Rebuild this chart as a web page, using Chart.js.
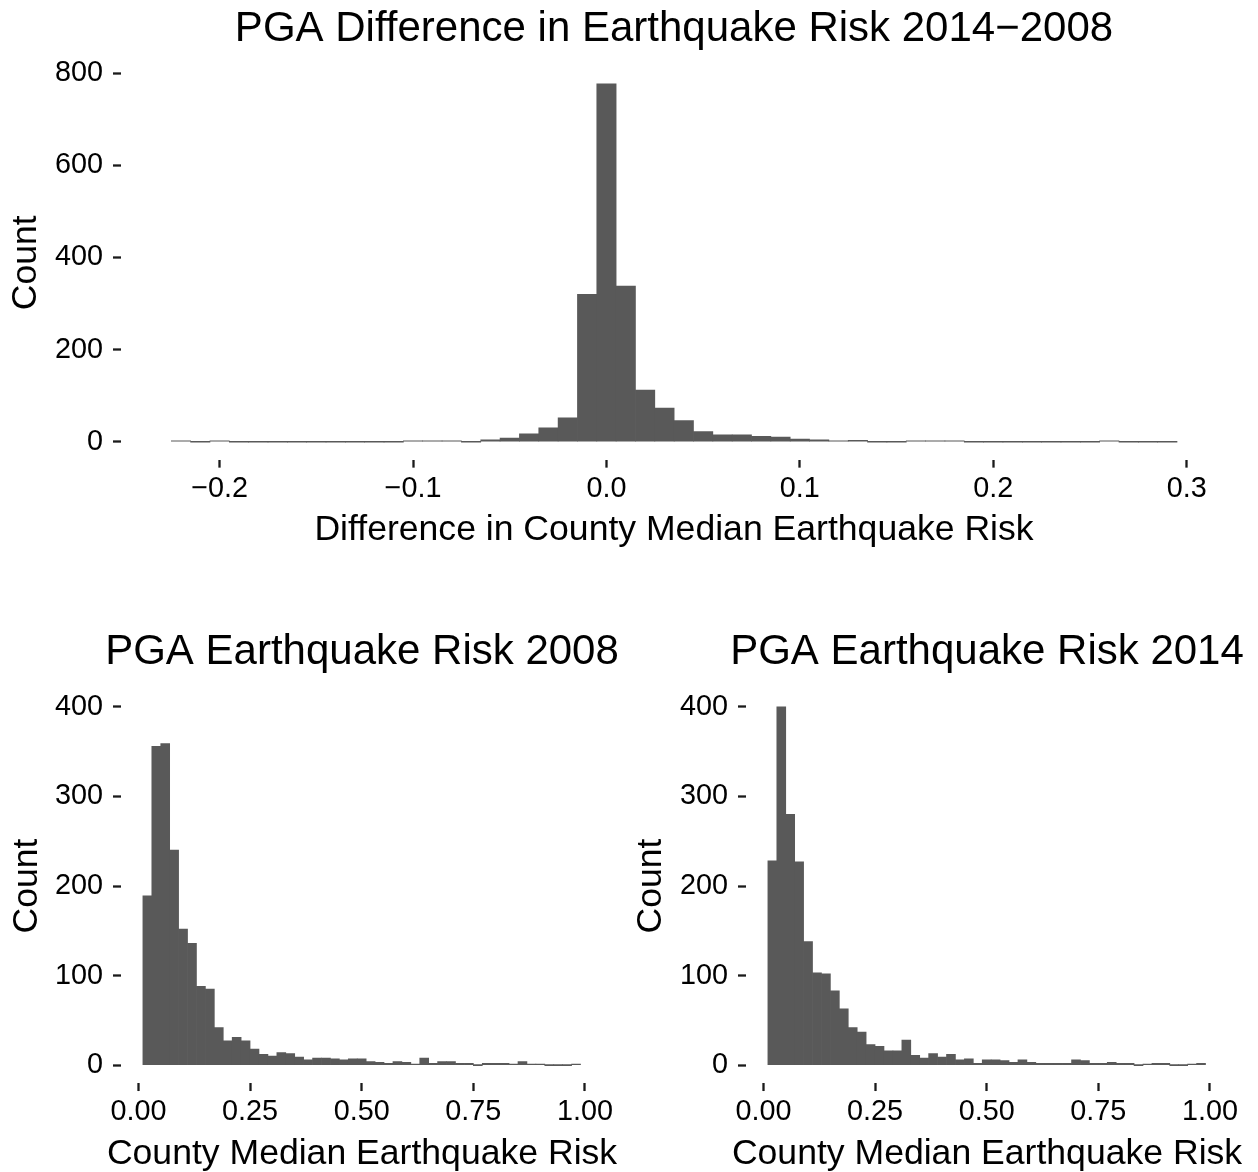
<!DOCTYPE html>
<html>
<head>
<meta charset="utf-8">
<script src="https://cdn.jsdelivr.net/npm/chart.js@4.4.1/dist/chart.umd.min.js"></script>
<style>
  html, body { margin: 0; padding: 0; background: #fff; overflow: hidden; }
  body { width: 1258px; height: 1172px; position: relative; }
  canvas { position: absolute; }
  /* each canvas is centred on its own plot panel so the titles centre on it */
  #diffChart { left: 0; top: 0; }
  #risk2008Chart { left: 0; top: 600px; }
  #risk2014Chart { left: 629px; top: 600px; }
</style>
</head>
<body>
<canvas id="diffChart" width="1348" height="552"></canvas>
<canvas id="risk2008Chart" width="724" height="576"></canvas>
<canvas id="risk2014Chart" width="716" height="576"></canvas>
<script>
const FONT = "'Liberation Sans', Arial, sans-serif";
const BAR_COLOR = "#595959";
const INK = "#000";

// bin centres (width 0.01) and counts for the 2014-2008 difference
const diffBins = [
    -0.22, -0.21, -0.20, -0.19, -0.18, -0.17, -0.16, -0.15, -0.14, -0.13,
    -0.12, -0.11, -0.10, -0.09, -0.08, -0.07, -0.06, -0.05, -0.04, -0.03,
    -0.02, -0.01, 0.00, 0.01, 0.02, 0.03, 0.04, 0.05, 0.06, 0.07,
    0.08, 0.09, 0.10, 0.11, 0.12, 0.13, 0.14, 0.15, 0.16, 0.17,
    0.18, 0.19, 0.20, 0.21, 0.22, 0.23, 0.24, 0.25, 0.26, 0.27,
    0.28, 0.29,
];
const diffCounts = [
    2, 0, 2, 0, 0, 0, 0, 0, 0, 0,
    0, 0, 2, 1, 2, 0, 4, 8, 17, 30,
    52, 320, 777, 338, 112, 73, 46, 22, 15, 15,
    12, 10, 6, 4, 2, 3, 0, 0, 1, 1,
    1, 0, 0, 0, 0, 0, 0, 0, 1, 0,
    0, 0,
];

// bin centres (width 0.02) for the county median risk
const riskBins = [
    0.02, 0.04, 0.06, 0.08, 0.10, 0.12, 0.14, 0.16, 0.18, 0.20,
    0.22, 0.24, 0.26, 0.28, 0.30, 0.32, 0.34, 0.36, 0.38, 0.40,
    0.42, 0.44, 0.46, 0.48, 0.50, 0.52, 0.54, 0.56, 0.58, 0.60,
    0.62, 0.64, 0.66, 0.68, 0.70, 0.72, 0.74, 0.76, 0.78, 0.80,
    0.82, 0.84, 0.86, 0.88, 0.90, 0.92, 0.94, 0.96, 0.98,
];
const risk2008Counts = [
    189, 356, 359, 240, 152, 136, 88, 85, 42, 27,
    31, 27, 18, 12, 10, 14, 13, 9, 6, 8,
    8, 7, 6, 7, 7, 4, 3, 2, 4, 3,
    1, 8, 2, 4, 4, 2, 2, 0, 2, 2,
    2, 1, 4, 1, 1, 0, 0, 0, 1,
];
const risk2014Counts = [
    228, 400, 280, 227, 138, 103, 102, 83, 63, 42,
    37, 23, 21, 16, 16, 28, 11, 8, 13, 9,
    12, 6, 7, 2, 6, 6, 5, 3, 6, 3,
    2, 2, 2, 2, 6, 5, 2, 2, 3, 2,
    2, 0, 1, 2, 2, 0, 0, 1, 2,
];

const diffTicks = [-0.2, -0.1, 0, 0.1, 0.2, 0.3];
const diffTickLabels = ["\u22120.2", "\u22120.1", "0.0", "0.1", "0.2", "0.3"];
const riskTicks = [0, 0.25, 0.5, 0.75, 1];
const riskTickLabels = ["0.00", "0.25", "0.50", "0.75", "1.00"];
const diffCountTicks = [0, 200, 400, 600, 800];
const riskCountTicks = [0, 100, 200, 300, 400];

const tickGrid = {
    display: true,
    drawOnChartArea: false,
    drawTicks: true,
    tickLength: 8,
    tickWidth: 2.3,
    tickColor: "#1a1a1a",
    offset: false,
};

function histogram(canvasId, cfg) {
    return new Chart(document.getElementById(canvasId), {
        type: "bar",
        data: {
            datasets: [
                {
                    data: cfg.bins.map((x, i) => ({ x, y: cfg.counts[i] })),
                    backgroundColor: BAR_COLOR,
                    borderWidth: 0,
                    barPercentage: 1,
                    categoryPercentage: 1,
                    minBarLength: 1,
                },
            ],
        },
        options: {
            responsive: false,
            animation: false,
            layout: { padding: 0 },
            plugins: {
                legend: { display: false },
                tooltip: { enabled: false },
                title: {
                    display: true,
                    text: cfg.title,
                    color: INK,
                    font: { family: FONT, size: 42, weight: "normal", lineHeight: 1.2 },
                    padding: cfg.titlePadding,
                },
                // x-axis title, drawn full width so it is not squeezed to the panel
                subtitle: {
                    display: true,
                    position: "bottom",
                    text: cfg.xTitle,
                    color: INK,
                    font: { family: FONT, size: 35.6, weight: "normal", lineHeight: 1.2 },
                    padding: cfg.xTitlePadding,
                },
            },
            scales: {
                x: {
                    type: "linear",
                    min: cfg.xMin,
                    max: cfg.xMax,
                    offset: false,
                    afterBuildTicks: (s) => { s.ticks = cfg.xTicks.map((v) => ({ value: v })); },
                    afterFit: (s) => { s.height = 47; },
                    ticks: {
                        autoSkip: false,
                        maxRotation: 0,
                        padding: 4,
                        color: INK,
                        font: { family: FONT, size: 28.8 },
                        callback: (v, i) => cfg.xTickLabels[i],
                    },
                    grid: tickGrid,
                    border: { display: false },
                },
                y: {
                    type: "linear",
                    min: cfg.yMin,
                    max: cfg.yMax,
                    afterBuildTicks: (s) => { s.ticks = cfg.yTicks.map((v) => ({ value: v })); },
                    afterFit: (s) => { s.width = cfg.yAxisWidth; },
                    ticks: {
                        padding: 10,
                        color: INK,
                        font: { family: FONT, size: 28.8 },
                    },
                    grid: tickGrid,
                    border: { display: false },
                    title: {
                        display: true,
                        text: "Count",
                        color: INK,
                        font: { family: FONT, size: 35.6, lineHeight: 1.2 },
                        padding: { top: cfg.yTitlePad, bottom: 0 },
                    },
                },
                // empty right-hand axis: only keeps the panel centred in the canvas
                spacer: {
                    type: "linear",
                    position: "right",
                    ticks: { display: false },
                    grid: { display: false },
                    border: { display: false },
                    afterFit: (s) => { s.width = cfg.spacerWidth; },
                },
            },
        },
    });
}

histogram("diffChart", {
    bins: diffBins,
    counts: diffCounts,
    title: "PGA Difference in Earthquake Risk 2014\u22122008",
    xTitle: "Difference in County Median Earthquake Risk",
    xTicks: diffTicks,
    xTickLabels: diffTickLabels,
    yTicks: diffCountTicks,
    xMin: -0.251,
    xMax: 0.321,
    yMin: -38.85,
    yMax: 815.85,
    titlePadding: { top: 4.5, bottom: 11.1 },
    xTitlePadding: { top: 2.04, bottom: 0.6 },
    yAxisWidth: 121,
    spacerWidth: 120.7,
    yTitlePad: 4.6,
});

histogram("risk2008Chart", {
    bins: riskBins,
    counts: risk2008Counts,
    title: "PGA Earthquake Risk 2008",
    xTitle: "County Median Earthquake Risk",
    xTicks: riskTicks,
    xTickLabels: riskTickLabels,
    yTicks: riskCountTicks,
    xMin: -0.039,
    xMax: 1.039,
    yMin: -20,
    yMax: 420,
    titlePadding: { top: 26.8, bottom: 11.8 },
    xTitlePadding: { top: 2.64, bottom: 0.6 },
    yAxisWidth: 121,
    spacerWidth: 121.6,
    yTitlePad: 6.2,
});

histogram("risk2014Chart", {
    bins: riskBins,
    counts: risk2014Counts,
    title: "PGA Earthquake Risk 2014",
    xTitle: "County Median Earthquake Risk",
    xTicks: riskTicks,
    xTickLabels: riskTickLabels,
    yTicks: riskCountTicks,
    xMin: -0.039,
    xMax: 1.039,
    yMin: -20,
    yMax: 420,
    titlePadding: { top: 26.8, bottom: 11.8 },
    xTitlePadding: { top: 2.64, bottom: 0.6 },
    yAxisWidth: 117,
    spacerWidth: 117.6,
    yTitlePad: 1.2,
});
</script>
</body>
</html>
